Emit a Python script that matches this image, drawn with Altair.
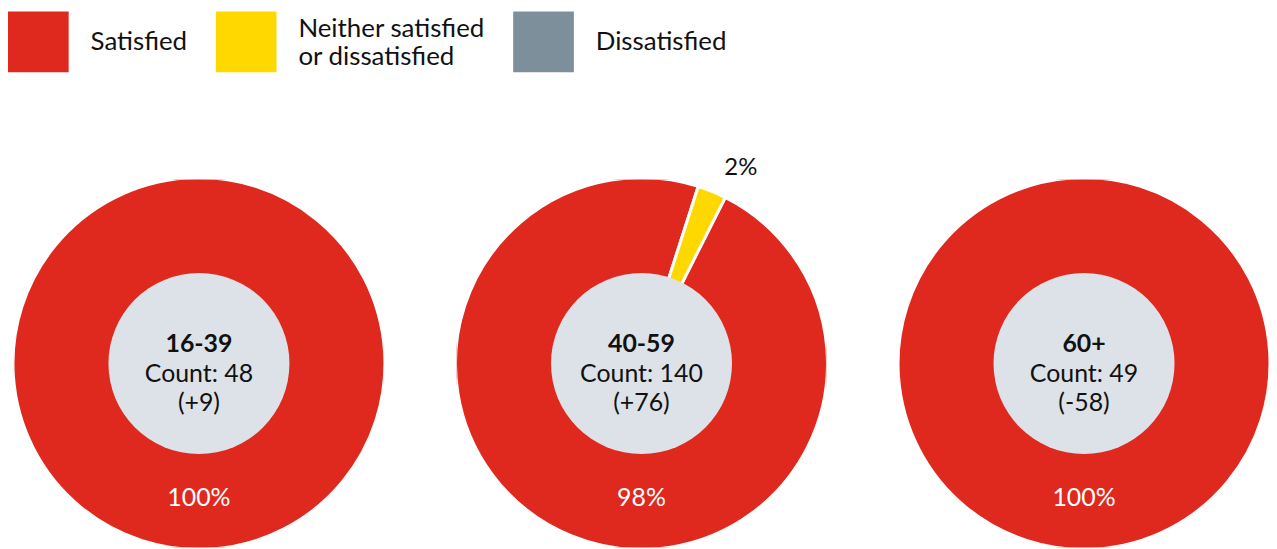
import altair as alt
import pandas as pd

groups = ["16-39", "40-59", "60+"]
counts = [48, 140, 49]
changes = ["(+9)", "(+76)", "(-58)"]
categories = ["Satisfied", "Neither satisfied or dissatisfied", "Dissatisfied"]
satisfied = [100, 97.5, 100]
neither = [0, 2.5, 0]
dissatisfied = [0, 0, 0]
satisfied_labels = ["100%", "98%", "100%"]
neither_labels = ["", "2%", ""]
dissatisfied_labels = ["", "", ""]
colors = ["#E0291E", "#FFD800", "#7C8F9A"]
center_color = "#DCE2E7"
stack_order = {"Neither satisfied or dissatisfied": 0, "Satisfied": 1, "Dissatisfied": 2}

rows = []
for i, g in enumerate(groups):
    for cat, vals, labs in zip(categories, [satisfied, neither, dissatisfied],
                               [satisfied_labels, neither_labels, dissatisfied_labels]):
        rows.append({
            "group": g,
            "category": cat,
            "value": vals[i],
            "label": labs[i],
            "count": counts[i],
            "change": changes[i],
            "ord": stack_order[cat],
        })
df = pd.DataFrame(rows)

FONT = "Lato"
start = 0.31
theta_scale = alt.Scale(range=[start, start + 6.2832])

ring = alt.Chart().mark_arc(radius=187, radius2=88, stroke="white", strokeWidth=3, clip=True).encode(
    theta=alt.Theta("value:Q", stack=True, scale=theta_scale),
    order=alt.Order("ord:Q"),
    color=alt.Color(
        "category:N",
        scale=alt.Scale(domain=categories, range=colors),
        legend=alt.Legend(
            title=None, orient="none", legendX=-6, legendY=-169, direction="horizontal",
            symbolType="square", symbolSize=3721, symbolStrokeWidth=0, symbolOpacity=1,
            labelFontSize=26, labelFont=FONT, labelColor="#111111", labelOffset=22,
            columnPadding=28, padding=0, labelLimit=400,
            labelBaseline=alt.ExprRef("indexof(datum.label, 'Neither') >= 0 ? 'bottom' : 'middle'"),
            labelExpr="datum.label == 'Neither satisfied or dissatisfied' ? ['Neither satisfied', 'or dissatisfied'] : datum.label",
        ),
    ),
).transform_filter("datum.value > 0")

center = alt.Chart().mark_arc(radius=91).encode(
    color=alt.value(center_color)
).transform_filter("datum.category == 'Satisfied'")

group_text = alt.Chart().mark_text(
    font=FONT, fontSize=25, fontWeight="bold", dy=-20, color="#111111"
).encode(text="group:N").transform_filter("datum.category == 'Satisfied'")

count_text = alt.Chart().mark_text(
    font=FONT, fontSize=25, dy=11, color="#111111"
).encode(text="count_label:N").transform_filter(
    "datum.category == 'Satisfied'"
).transform_calculate(count_label="'Count: ' + datum.count")

change_text = alt.Chart().mark_text(
    font=FONT, fontSize=25, dy=40, color="#111111"
).encode(text="change:N").transform_filter("datum.category == 'Satisfied'")

sat_pct = alt.Chart().mark_text(
    font=FONT, fontSize=25, dy=135, color="white"
).encode(text="label:N").transform_filter("datum.category == 'Satisfied'")

small_pct = alt.Chart().mark_text(
    font=FONT, fontSize=24, radius=212, dx=3, align="left", baseline="middle", color="#111111"
).encode(
    theta=alt.Theta("value:Q", stack=True, scale=theta_scale),
    order=alt.Order("ord:Q"),
    text="label:N",
).transform_filter("datum.category == 'Neither satisfied or dissatisfied' && datum.value > 0")

panel = alt.layer(ring, center, group_text, count_text, change_text, sat_pct, small_pct, data=df).properties(
    width=372, height=370
)

chart = panel.facet(
    column=alt.Column("group:N", sort=groups, title=None, header=alt.Header(labels=False)),
    spacing=73,
).properties(
    padding={"left": 0, "top": 2, "right": 0, "bottom": 0}
).configure_view(strokeWidth=0)

chart.save("out.html", embed_options={"renderer": "svg", "actions": False})
